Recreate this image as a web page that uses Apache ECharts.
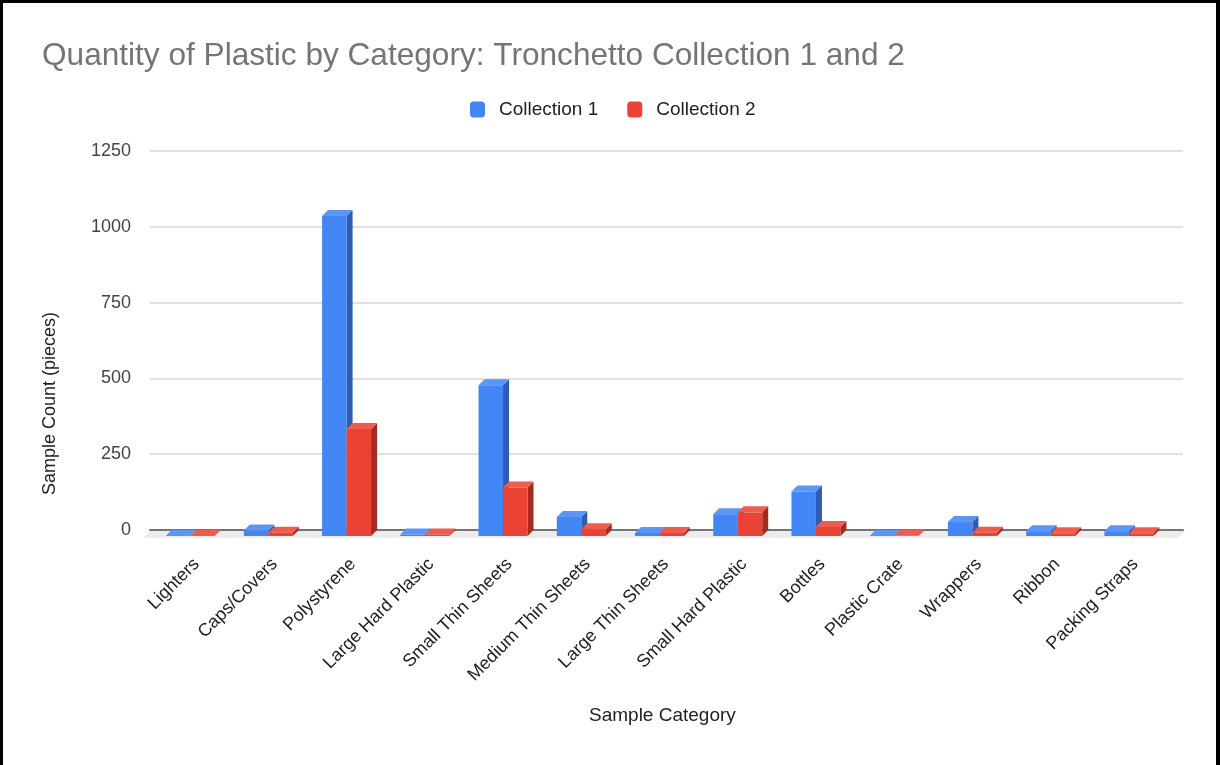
<!DOCTYPE html>
<html>
<head>
<meta charset="utf-8">
<script src="https://cdn.jsdelivr.net/npm/echarts@6/dist/echarts.min.js"></script>
<style>
  html, body { margin: 0; padding: 0; background: #fff; }
  #wrap { position: relative; width: 1220px; height: 765px; }
  #chart { position: absolute; left: 0; top: 0; width: 1220px; height: 765px; }
  #frame { position: absolute; left: 0; top: 0; width: 1220px; height: 765px; box-sizing: border-box;
           border-left: 3px solid #000; border-top: 3px solid #000; border-right: 4px solid #000; pointer-events: none; }
</style>
</head>
<body>
<div id="wrap"><div id="chart"></div><div id="frame"></div></div>
<script>
// Plastic counts per sample category, Tronchetto collections
const categories = ['Lighters', 'Caps/Covers', 'Polystyrene', 'Large Hard Plastic', 'Small Thin Sheets',
  'Medium Thin Sheets', 'Large Thin Sheets', 'Small Hard Plastic', 'Bottles', 'Plastic Crate',
  'Wrappers', 'Ribbon', 'Packing Straps'];
const collection1 = [0, 18, 1055, 5, 497, 63, 10, 72, 147, 0, 46, 16, 16];
const collection2 = [0, 11, 353, 5, 160, 22, 10, 78, 30, 2, 11, 9, 9];
const yTicks = [0, 250, 500, 750, 1000, 1250];

const FONT = '"Liberation Sans", Arial, sans-serif';
// face shades: front, top, side
const shades = [
  { front: '#4285F4', top: '#5b96f6', side: '#2c5cb4' },
  { front: '#EA4335', top: '#ee5c50', side: '#a52b21' }
];
const DX = 6, DY = 6;

// draws one bar as a box: front face, top face and right side
function bar3d(seriesIdx) {
  return function (params, api) {
    const i = api.value(0), v = api.value(1);
    const top = api.coord([i, v]);
    const base = api.coord([i, 0]);
    const band = api.size([1, 0])[0];
    const w = band * 0.313;
    const x0 = top[0] + (seriesIdx === 0 ? -w : 0);
    const x1 = x0 + w;
    const yt = top[1] + DY, yb = base[1] + DY;
    const s = shades[seriesIdx];
    return {
      type: 'group',
      children: [
        { type: 'polygon', shape: { points: [[x1, yt], [x1 + DX, yt - DY], [x1 + DX, yb - DY], [x1, yb]] },
          style: { fill: s.side } },
        { type: 'rect', shape: { x: x0, y: yt, width: w, height: yb - yt }, style: { fill: s.front } },
        { type: 'polygon', shape: { points: [[x0, yt], [x1, yt], [x1 + DX, yt - DY], [x0 + DX, yt - DY]] },
          style: { fill: s.top } }
      ]
    };
  };
}

const chart = echarts.init(document.getElementById('chart'), null, { renderer: 'canvas' });
const option = {
  backgroundColor: '#fff',
  animation: false,
  textStyle: { fontFamily: FONT },
  title: {
    text: 'Quantity of Plastic by Category: Tronchetto Collection 1 and 2',
    left: 37, top: 35,
    textStyle: { fontFamily: FONT, fontSize: 31.6, fontWeight: 'normal', color: '#757575' }
  },
  legend: {
    data: ['Collection 1', 'Collection 2'],
    top: 95, left: 465,
    icon: 'roundRect', itemWidth: 15, itemHeight: 16, itemGap: 29,
    textStyle: { fontFamily: FONT, fontSize: 19, color: '#222', padding: [0, 0, 0, 9] }
  },
  grid: [
    // back wall with gridlines
    { left: 150, right: 37, top: 151, bottom: 235 },
    // bar grid
    { left: 151, right: 52, top: 151, bottom: 235 }
  ],
  xAxis: [
    { gridIndex: 0, type: 'value', min: 0, max: 1, axisLabel: { show: false }, axisTick: { show: false },
      splitLine: { show: false }, axisLine: { show: true, onZero: false, lineStyle: { color: '#757575', width: 2 } } },
    { gridIndex: 1, type: 'category', data: categories, axisLine: { show: false }, axisTick: { show: false },
      axisLabel: { interval: 0, rotate: 45, margin: 25, verticalAlign: 'top',
        fontFamily: FONT, fontSize: 18, color: '#222' } }
  ],
  yAxis: [
    { gridIndex: 0, type: 'value', min: yTicks[0], max: yTicks[yTicks.length - 1], interval: yTicks[1] - yTicks[0],
      axisLine: { show: false }, axisTick: { show: false },
      axisLabel: { margin: 19, fontFamily: FONT, fontSize: 18, color: '#444', formatter: v => String(v) },
      splitLine: { lineStyle: { color: '#d6d6d6', width: 1.5 } } },
    { gridIndex: 1, type: 'value', min: yTicks[0], max: yTicks[yTicks.length - 1], interval: yTicks[1] - yTicks[0], show: false }
  ],
  graphic: [
    { type: 'text', x: 41, y: 495, rotation: Math.PI / 2,
      style: { text: 'Sample Count (pieces)', font: '18px ' + FONT, fill: '#222' } },
    { type: 'text', x: 589, y: 706,
      style: { text: 'Sample Category', font: '19px ' + FONT, fill: '#222' } }
  ],
  series: [
    { type: 'custom', name: 'floor', xAxisIndex: 0, yAxisIndex: 0, data: [[0, 0]], silent: true, z: 1,
      itemStyle: { color: '#ececec' },
      renderItem: function (params, api) {
        const cs = params.coordSys;
        const yb = cs.y + cs.height + 1;
        return { type: 'polygon', shape: { points: [[cs.x, yb], [cs.x + cs.width + 2, yb], [cs.x + cs.width - 5, yb + 7], [cs.x - 6, yb + 7]] },
          style: { fill: '#ececec' } };
      } },
    { type: 'custom', name: 'Collection 1', xAxisIndex: 1, yAxisIndex: 1, z: 3,
      itemStyle: { color: shades[0].front },
      data: collection1.map((v, i) => [i, v]), renderItem: bar3d(0) },
    { type: 'custom', name: 'Collection 2', xAxisIndex: 1, yAxisIndex: 1, z: 4,
      itemStyle: { color: shades[1].front },
      data: collection2.map((v, i) => [i, v]), renderItem: bar3d(1) }
  ]
};
chart.setOption(option);
</script>
</body>
</html>
